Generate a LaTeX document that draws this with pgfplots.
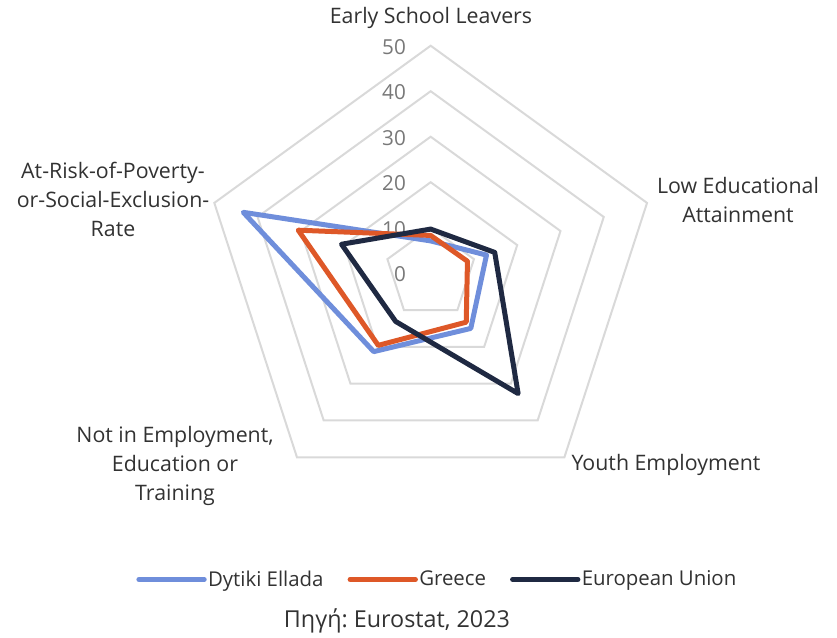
\documentclass[border=0pt]{standalone}
\usepackage{pgfplots}
\pgfplotsset{compat=1.18}
\usepackage{fontspec}
\setmainfont{Open Sans}
\frenchspacing
\definecolor{cBlue}{RGB}{111,142,219}
\definecolor{cOrange}{RGB}{222,88,40}
\definecolor{cNavy}{RGB}{31,41,66}
\definecolor{cGrid}{RGB}{217,217,217}
\definecolor{cTick}{RGB}{120,120,120}
\definecolor{cText}{RGB}{50,50,50}
\newcommand{\lab}{\fontsize{16}{21.75}\selectfont}
\newcommand{\leg}{\fontsize{15.3}{18}\selectfont}
\newcommand{\tck}{\fontsize{15.5}{18}\selectfont}
\begin{document}
\begin{tikzpicture}[x=0.75pt,y=-0.75pt]
\path[use as bounding box] (0,0) rectangle (837,637);
\begin{axis}[
  at={(323.0pt,-204.9pt)}, anchor=origin,
  x=3.4125pt, y=3.4125pt,
  xmin=-55, xmax=55, ymin=-55, ymax=55,
  hide axis, clip=false,
  legend style={at={(axis cs:1.4,-67.3)}, anchor=center, draw=none, fill=none,
    font=\leg, text=cText, legend columns=3,
    /tikz/every even column/.append style={column sep=17pt},
    nodes={inner xsep=1pt, inner ysep=0pt}},
  legend image code/.code={\draw[#1, line width=3.75pt, line cap=round] (0pt,0pt) -- (49pt,0pt);},
]
\pgfplotsinvokeforeach{10,20,30,40,50}{
  \addplot[cGrid, line width=1.5pt, line join=miter, forget plot, data cs=polar]
    coordinates {(90,#1) (18,#1) (-54,#1) (-126,#1) (162,#1) (90,#1) (18,#1)};
}
\pgfplotsinvokeforeach{0,10,20,30,40,50}{
  \node[anchor=east, text=cTick, font=\tck, inner sep=0pt] at (axis cs:-5.4,#1-0.3) {#1};
}
% Dytiki Ellada
\addplot[cBlue, line width=3.75pt, line join=round, line cap=round, data cs=polar]
  coordinates {(90,7.1) (18,12.9) (-54,15.0) (-126,21.3) (162,43.3) (90,7.1) (18,12.9)};
\addlegendentry{Dytiki Ellada}
% Greece
\addplot[cOrange, line width=3.75pt, line join=round, line cap=round, data cs=polar]
  coordinates {(90,8.3) (18,8.5) (-54,13.3) (-126,19.6) (162,30.6) (90,8.3) (18,8.5)};
\addlegendentry{Greece}
% European Union
\addplot[cNavy, line width=3.75pt, line join=round, line cap=round, data cs=polar]
  coordinates {(90,9.7) (18,14.8) (-54,32.7) (-126,13.1) (162,20.6) (90,9.7) (18,14.8)};
\addlegendentry{European Union}
\end{axis}
\begin{scope}[every node/.style={font=\lab, text=cText, align=center}]
\node at (431,18) {Early School Leavers};
\node at (738,199.5) {Low Educational\\Attainment};
\node at (666,465) {Youth Employment};
\node at (175,466) {Not in Employment,\\Education or\\Training};
\node at (113,199) {At-Risk-of-Poverty-\\or-Social-Exclusion-\\Rate};
\node[font=\fontsize{17.5}{20}\selectfont] at (397,621) {Πηγή: Eurostat, 2023};
\end{scope}
\end{tikzpicture}
\end{document}
